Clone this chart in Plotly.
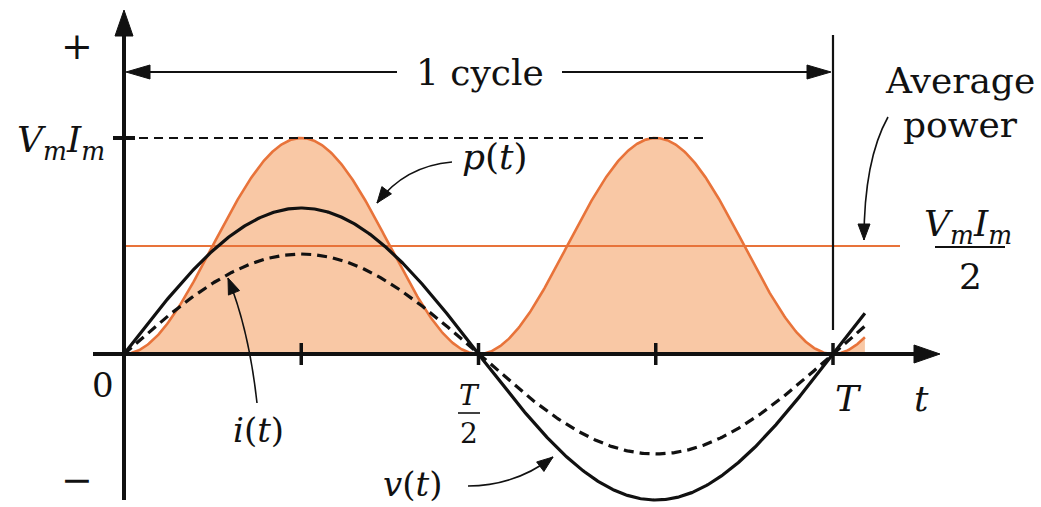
import numpy as np
import plotly.graph_objects as go

# ---- waveform parameters (display units) ----
PERIOD = [1.0]                 # T
V_AMPLITUDE = [1.46]           # peak of v(t)
I_AMPLITUDE = [1.00]           # peak of i(t)
P_PEAK = [2.16]                # V_m I_m level of p(t)
P_AVERAGE = [1.08]             # V_m I_m / 2 level
T_END = [1.045]                # curves run a little past T
TICK_FRACTIONS = [0.25, 0.5, 0.75, 1.0]

T = PERIOD[0]
t = np.linspace(0.0, T_END[0] * T, 600)
w = 2 * np.pi / T
v = V_AMPLITUDE[0] * np.sin(w * t)
i = I_AMPLITUDE[0] * np.sin(w * t)
p = P_PEAK[0] * np.sin(w * t) ** 2

# ---- canvas geometry ----
W, H = 1041, 507
X0_PX, PX_PER_T = 124.0, 709.0
Y0_PX, PX_PER_UNIT = 354.0, 100.0


def dx(px):
    return (px - X0_PX) / PX_PER_T


def dy(py):
    return (Y0_PX - py) / PX_PER_UNIT


FILL = "#F9C8A5"
ORANGE = "#E8733A"
FONT = "DejaVu Serif"
BLACK = "#111111"

fig = go.Figure()

fig.add_trace(go.Scatter(x=t, y=p, mode="lines", fill="tozeroy",
                         fillcolor=FILL, line=dict(color=ORANGE, width=2.6),
                         hoverinfo="skip"))
fig.add_trace(go.Scatter(x=[0, dx(900)], y=[P_AVERAGE[0]] * 2, mode="lines",
                         line=dict(color=ORANGE, width=1.8), hoverinfo="skip"))
fig.add_trace(go.Scatter(x=[0, dx(705)], y=[P_PEAK[0]] * 2, mode="lines",
                         line=dict(color=BLACK, width=2, dash="9px,6px"),
                         hoverinfo="skip"))
fig.add_trace(go.Scatter(x=t, y=i, mode="lines",
                         line=dict(color=BLACK, width=3.2, dash="10px,6px"),
                         hoverinfo="skip"))
fig.add_trace(go.Scatter(x=t, y=v, mode="lines",
                         line=dict(color=BLACK, width=3.2), hoverinfo="skip"))

shapes = []


def line_px(x1, y1, x2, y2, width, color=BLACK):
    shapes.append(dict(type="line", xref="x", yref="y",
                       x0=dx(x1), y0=dy(y1), x1=dx(x2), y1=dy(y2),
                       line=dict(color=color, width=width), layer="above"))


def head_px(tipx, tipy, ux, uy, length, half):
    # filled triangular arrowhead, pointing along (ux, uy)
    n = (ux ** 2 + uy ** 2) ** 0.5
    ux, uy = ux / n, uy / n
    bx, by = tipx - ux * length, tipy - uy * length
    px_, py_ = -uy, ux
    pts = [(tipx, tipy), (bx + px_ * half, by + py_ * half),
           (bx - px_ * half, by - py_ * half)]
    path = "M " + " L ".join(f"{dx(a)},{dy(b)}" for a, b in pts) + " Z"
    shapes.append(dict(type="path", xref="x", yref="y", path=path,
                       fillcolor=BLACK, line=dict(color=BLACK, width=1),
                       layer="above"))


def curve_px(s, c, e, width=1.6):
    path = (f"M {dx(s[0])},{dy(s[1])} Q {dx(c[0])},{dy(c[1])} "
            f"{dx(e[0])},{dy(e[1])}")
    shapes.append(dict(type="path", xref="x", yref="y", path=path,
                       line=dict(color=BLACK, width=width), layer="above"))
    head_px(e[0], e[1], e[0] - c[0], e[1] - c[1], 16, 6)


# axes
line_px(93, Y0_PX, 925, Y0_PX, 4)
head_px(940, Y0_PX, 1, 0, 26, 9)
line_px(X0_PX, 500, X0_PX, 30, 4)
head_px(X0_PX, 10, 0, -1, 26, 9)

# ticks on the time axis
for f in TICK_FRACTIONS:
    xp = X0_PX + f * T * PX_PER_T
    line_px(xp, 343, xp, 365, 3.5)
# tick at V_m I_m on the vertical axis
yp = Y0_PX - P_PEAK[0] * PX_PER_UNIT
line_px(113, yp, 135, yp, 4)

# one-cycle marker
xT = X0_PX + T * PX_PER_T
line_px(xT, 35, xT, 330, 2.2)
line_px(X0_PX + 20, 72, 397, 72, 2.2)
line_px(562, 72, xT - 20, 72, 2.2)
head_px(X0_PX + 2, 72, -1, 0, 24, 7)
head_px(xT - 2, 72, 1, 0, 24, 7)

# fraction bars
line_px(458, 413, 480, 413, 1.6)
line_px(935, 247, 1005, 247, 1.8)

# curved callout arrows
curve_px((452, 162), (405, 166), (377, 203))      # p(t)
curve_px((257, 403), (249, 330), (228, 278))      # i(t)
curve_px((468, 486), (515, 486), (553, 457))      # v(t)
curve_px((888, 117), (864, 160), (864, 240))      # average power

annotations = []


def text_px(x, y, s, size=40, anchor="center"):
    annotations.append(dict(x=dx(x), y=dy(y), xref="x", yref="y", text=s,
                            showarrow=False, xanchor=anchor, yanchor="middle",
                            font=dict(family=FONT, size=size, color=BLACK)))


VMIM = "<i>V<sub>m</sub>I<sub>m</sub></i>"
text_px(77, 46, "+", 38)
text_px(77, 480, "−", 38)
text_px(103, 385, "0", 34)
text_px(107, 142, VMIM, 36, "right")
text_px(480, 72, "1 cycle", 36)
text_px(495, 156, "<i>p</i>(<i>t</i>)", 36)
text_px(258, 430, "<i>i</i>(<i>t</i>)", 34)
text_px(412, 484, "<i>v</i>(<i>t</i>)", 34)
text_px(469, 395, "<i>T</i>", 28)
text_px(469, 433, "2", 28)
text_px(848, 398, "<i>T</i>", 36)
text_px(921, 398, "<i>t</i>", 36)
text_px(960, 80, "Average", 36)
text_px(960, 124, "power", 36)
text_px(968, 226, VMIM, 36)
text_px(970, 276, "2", 36)

fig.update_layout(
    width=W, height=H, autosize=False,
    margin=dict(l=0, r=0, t=0, b=0),
    paper_bgcolor="white", plot_bgcolor="white",
    showlegend=False,
    xaxis=dict(range=[dx(0), dx(W)], visible=False, fixedrange=True),
    yaxis=dict(range=[dy(H), dy(0)], visible=False, fixedrange=True),
    shapes=shapes, annotations=annotations,
)

fig.write_html("out.html", config={"displayModeBar": False})
